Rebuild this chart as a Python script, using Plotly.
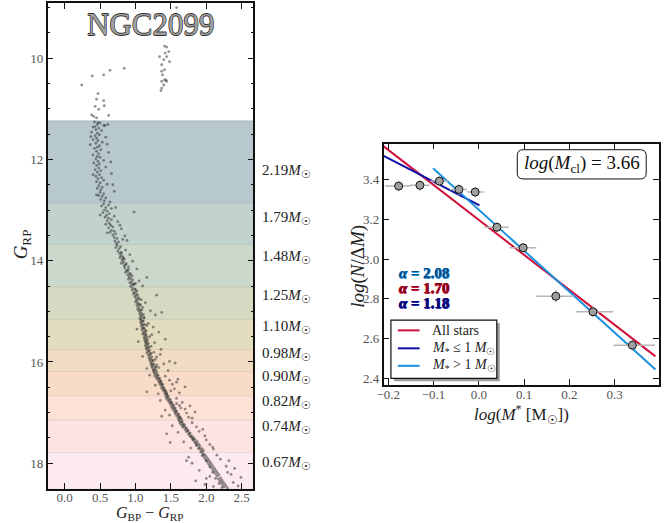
import plotly.graph_objects as go

# ---------------- DATA ----------------
# Colour-magnitude diagram stars (G_BP - G_RP, G_RP)
cmd_stars = [
    # giants / turnoff region
    (1.41, 9.76), (1.44, 9.78), (1.47, 9.87), (1.42, 9.90), (1.44, 9.97), (1.40, 10.03), (1.48, 10.07),
    (1.34, 9.97), (1.37, 10.13), (1.37, 10.26), (1.38, 10.33), (1.41, 10.43), (1.37, 10.46), (1.40, 10.53),
    (1.43, 10.43), (1.37, 10.59), (1.36, 10.64), (1.44, 10.46), (1.41, 10.23), (1.58, 9.00),
    (0.24, 10.53), (0.39, 10.35), (0.55, 10.33), (0.64, 10.24), (0.84, 10.20),
    (0.47, 10.70), (0.45, 10.81), (0.55, 10.84), (0.43, 10.95), (0.56, 10.94), (0.48, 11.01), (0.38, 11.12),
    (0.41, 11.15), (0.45, 11.18), (0.62, 11.13), (0.47, 11.27), (0.43, 11.35), (0.57, 11.33), (0.61, 11.31),
    # band 1
    (0.42, 11.26), (0.50, 11.28), (0.46, 11.31), (0.55, 11.33), (0.40, 11.36), (0.48, 11.38), (0.44, 11.41),
    (0.52, 11.43), (0.38, 11.46), (0.46, 11.48), (0.49, 11.51), (0.43, 11.53), (0.58, 11.56), (0.45, 11.58),
    (0.40, 11.61), (0.47, 11.63), (0.53, 11.66), (0.44, 11.68), (0.36, 11.71), (0.49, 11.73), (0.46, 11.76),
    (0.42, 11.78), (0.51, 11.81), (0.45, 11.84), (0.62, 11.86), (0.48, 11.89), (0.40, 11.91), (0.46, 11.94),
    (0.50, 11.96), (0.44, 11.99), (0.55, 12.02), (0.47, 12.04), (0.41, 12.07), (0.49, 12.09), (0.45, 12.12),
    (0.58, 12.15), (0.48, 12.17), (0.43, 12.20), (0.51, 12.22), (0.46, 12.25), (0.66, 12.28), (0.49, 12.30),
    (0.44, 12.33), (0.52, 12.36), (0.47, 12.38), (0.55, 12.41), (0.45, 12.44), (0.50, 12.46), (0.60, 12.49),
    (0.48, 12.52), (0.53, 12.55), (0.46, 12.57), (0.51, 12.60), (0.70, 12.63), (0.50, 12.65), (0.55, 12.68),
    (0.48, 12.71), (0.53, 12.73), (0.58, 12.76), (0.51, 12.79), (0.56, 12.82), (0.64, 12.84),
    (0.37, 11.55), (0.60, 11.70), (0.65, 12.05), (0.40, 12.30), (0.68, 12.50), (0.45, 12.70),
    # band 2
    (0.55, 12.88), (0.62, 12.90), (0.52, 12.92), (0.58, 12.95), (0.66, 12.97), (0.56, 13.00), (0.60, 13.02),
    (0.98, 13.04), (0.54, 13.05), (0.63, 13.07), (0.59, 13.10), (0.70, 13.12), (0.57, 13.14), (0.62, 13.16),
    (0.66, 13.19), (0.60, 13.21), (0.75, 13.23), (0.63, 13.26), (0.58, 13.28), (0.65, 13.30), (0.68, 13.33),
    (0.62, 13.35), (0.80, 13.37), (0.66, 13.40), (0.70, 13.42), (0.64, 13.44), (0.72, 13.47), (0.68, 13.49),
    (0.85, 13.51), (0.70, 13.54), (0.74, 13.56), (0.82, 13.58), (0.71, 13.61), (0.76, 13.63), (0.73, 13.66),
    (0.72, 12.95), (0.50, 13.10), (0.78, 13.30), (0.60, 13.45), (0.88, 13.60),
    # band 3
    (0.74, 13.70), (0.79, 13.72), (0.72, 13.74), (0.77, 13.76), (0.86, 13.79), (0.75, 13.81), (0.80, 13.83),
    (0.77, 13.85), (0.92, 13.88), (0.79, 13.90), (0.82, 13.92), (0.78, 13.94), (0.84, 13.97), (0.81, 13.99),
    (0.96, 14.01), (0.83, 14.03), (0.80, 14.05), (0.86, 14.08), (0.84, 14.10), (0.90, 14.12), (0.85, 14.14),
    (1.02, 14.16), (0.87, 14.19), (0.89, 14.21), (0.86, 14.23), (0.92, 14.25), (0.89, 14.28), (0.95, 14.30),
    (0.91, 14.32), (1.16, 14.33), (0.93, 14.35), (0.90, 14.37), (1.05, 14.40), (0.94, 14.42), (0.92, 14.44),
    (0.97, 14.46), (0.95, 14.48), (1.10, 14.50), (0.93, 14.51), (1.00, 14.45),
    (0.80, 13.86), (0.83, 13.95), (0.87, 14.06), (0.90, 14.17), (0.93, 14.27), (0.96, 14.38), (0.98, 14.47),
    # band 4
    (0.96, 14.54), (0.99, 14.56), (0.95, 14.58), (1.02, 14.60), (0.98, 14.62), (1.00, 14.64), (0.97, 14.66),
    (1.30, 14.68), (1.01, 14.69), (0.99, 14.71), (1.04, 14.73), (1.01, 14.75), (1.08, 14.77), (1.02, 14.79),
    (1.00, 14.81), (1.14, 14.83), (1.04, 14.84), (1.02, 14.86), (1.06, 14.88), (1.03, 14.90), (1.10, 14.92),
    (1.05, 14.94), (1.03, 14.96), (1.07, 14.98), (1.21, 14.99), (1.05, 15.00), (1.37, 15.02), (1.08, 15.03),
    (1.06, 15.05), (1.28, 15.07), (1.09, 15.08), (1.07, 15.10), (1.12, 15.12), (1.08, 15.14), (1.06, 15.15),
    (1.00, 14.57), (1.03, 14.67), (1.05, 14.76), (1.07, 14.87), (1.09, 14.97), (1.11, 15.06), (1.12, 15.13),
    # band 5
    (1.08, 15.18), (1.10, 15.20), (1.07, 15.22), (1.18, 15.24), (1.09, 15.25), (1.11, 15.27), (1.08, 15.29),
    (1.25, 15.31), (1.10, 15.32), (1.12, 15.34), (1.09, 15.36), (1.14, 15.38), (1.11, 15.40), (1.33, 15.41),
    (1.12, 15.43), (1.10, 15.45), (1.15, 15.47), (1.13, 15.48), (1.20, 15.50), (1.12, 15.52), (1.14, 15.54),
    (1.42, 15.55), (1.13, 15.57), (1.16, 15.59), (1.14, 15.61), (1.27, 15.62), (1.15, 15.64), (1.17, 15.66),
    (1.14, 15.68), (1.22, 15.69), (1.16, 15.71), (1.18, 15.73), (1.15, 15.74), (1.36, 15.75), (1.04, 15.60),
    (1.02, 15.35), (1.23, 15.46), (1.16, 15.28),
    (1.11, 15.19), (1.13, 15.26), (1.12, 15.33), (1.15, 15.39), (1.14, 15.44), (1.16, 15.51), (1.17, 15.56),
    (1.18, 15.63), (1.19, 15.70),
    # band 6
    (1.17, 15.78), (1.19, 15.80), (1.16, 15.82), (1.21, 15.84), (1.18, 15.86), (1.20, 15.88), (1.30, 15.90),
    (1.19, 15.92), (1.22, 15.94), (1.20, 15.96), (1.24, 15.98), (1.21, 16.00), (1.56, 16.02), (1.23, 16.03),
    (1.40, 16.04), (1.22, 16.05), (1.25, 16.07), (1.23, 16.09), (1.33, 16.11), (1.24, 16.12), (1.27, 16.14),
    (1.25, 16.16), (1.46, 16.17), (1.26, 16.18), (1.35, 15.85), (1.28, 15.95), (1.30, 16.06), (1.10, 15.89),
    (1.16, 16.13), (1.48, 15.99), (1.26, 15.81), (1.29, 16.10),
    (1.20, 15.77), (1.22, 15.83), (1.23, 15.90), (1.25, 15.97), (1.26, 16.04), (1.28, 16.10), (1.29, 16.16),
    # band 7
    (1.26, 16.21), (1.28, 16.23), (1.30, 16.25), (1.27, 16.27), (1.31, 16.29), (1.29, 16.31), (1.33, 16.33),
    (1.31, 16.35), (1.35, 16.37), (1.33, 16.39), (1.58, 16.40), (1.36, 16.41), (1.34, 16.43), (1.38, 16.45),
    (1.36, 16.47), (1.70, 16.49), (1.39, 16.50), (1.37, 16.52), (1.41, 16.54), (1.39, 16.56), (1.43, 16.58),
    (1.16, 16.59), (1.41, 16.60), (1.44, 16.62), (1.42, 16.64), (1.45, 16.66), (1.42, 16.28), (1.48, 16.36),
    (1.52, 16.44), (1.55, 16.53), (1.62, 16.61), (1.20, 16.26), (1.28, 16.46), (1.60, 16.34), (1.50, 16.57),
    (1.32, 16.63),
    (1.30, 16.20), (1.32, 16.26), (1.34, 16.32), (1.36, 16.38), (1.38, 16.44), (1.40, 16.51), (1.42, 16.57),
    (1.44, 16.63),
    # band 8
    (1.43, 16.69), (1.46, 16.71), (1.44, 16.73), (1.48, 16.75), (1.46, 16.77), (1.50, 16.79), (1.48, 16.81),
    (1.52, 16.83), (1.50, 16.85), (1.77, 16.87), (1.53, 16.88), (1.51, 16.90), (1.55, 16.92), (1.53, 16.94),
    (1.57, 16.96), (1.55, 16.98), (1.84, 16.99), (1.58, 17.00), (1.56, 17.02), (1.60, 17.04), (1.58, 17.06),
    (1.37, 17.07), (1.62, 17.08), (1.60, 17.10), (1.63, 17.12), (1.61, 17.14), (1.58, 16.72), (1.66, 16.80),
    (1.62, 16.86), (1.70, 16.93), (1.72, 17.01), (1.75, 17.09), (1.35, 16.76), (1.42, 16.95), (1.48, 17.05),
    (1.58, 16.82), (1.80, 17.11), (1.64, 16.91),
    (1.46, 16.68), (1.49, 16.74), (1.51, 16.80), (1.54, 16.86), (1.56, 16.91), (1.58, 16.97), (1.61, 17.03),
    (1.63, 17.09), (1.65, 17.13),
    # band 9
    (1.62, 17.17), (1.65, 17.19), (1.63, 17.21), (1.67, 17.23), (1.65, 17.25), (1.69, 17.27), (1.67, 17.29),
    (1.72, 17.31), (1.95, 17.33), (1.70, 17.34), (1.74, 17.36), (1.72, 17.38), (1.77, 17.40), (1.44, 17.42),
    (1.75, 17.43), (1.79, 17.45), (1.77, 17.47), (1.82, 17.49), (1.80, 17.51), (1.84, 17.53), (1.82, 17.55),
    (1.87, 17.57), (1.49, 17.59), (1.85, 17.60), (1.89, 17.62), (1.87, 17.64), (1.91, 17.66), (2.09, 17.68),
    (1.90, 17.69), (1.94, 17.71), (1.92, 17.73), (1.96, 17.75), (1.94, 17.77), (1.80, 17.20), (1.86, 17.28),
    (1.90, 17.37), (1.98, 17.46), (2.00, 17.54), (2.05, 17.63), (2.10, 17.72), (1.52, 17.26), (1.60, 17.39),
    (1.68, 17.58), (1.78, 17.70),
    (1.66, 17.18), (1.69, 17.24), (1.71, 17.30), (1.74, 17.35), (1.76, 17.41), (1.79, 17.48), (1.81, 17.53),
    (1.84, 17.59), (1.86, 17.65), (1.89, 17.71), (1.92, 17.78),
    # band 10
    (1.95, 17.81), (1.98, 17.83), (1.94, 17.85), (2.00, 17.87), (1.97, 17.89), (2.02, 17.91), (1.99, 17.93),
    (2.04, 17.95), (2.01, 17.97), (2.06, 17.99), (2.03, 18.01), (2.08, 18.03), (2.05, 18.05), (2.10, 18.07),
    (2.07, 18.09), (2.12, 18.11), (2.09, 18.13), (2.14, 18.15), (2.11, 18.17), (2.16, 18.19), (2.13, 18.21),
    (2.18, 18.23), (2.15, 18.25), (2.49, 18.28), (2.20, 18.29), (2.17, 18.31), (2.22, 18.33), (2.19, 18.35),
    (2.24, 18.37), (2.21, 18.39), (2.26, 18.41), (2.23, 18.43), (2.28, 18.45), (2.25, 18.47), (2.30, 18.49),
    (2.15, 17.84), (2.20, 17.92), (1.80, 18.00), (2.28, 18.06), (1.90, 18.14), (2.35, 18.22), (2.00, 18.30),
    (2.38, 18.38), (2.10, 18.46), (1.75, 17.88), (2.30, 18.18), (1.98, 18.42), (2.05, 18.26),
    (1.96, 17.84), (2.00, 17.95), (2.05, 18.07), (2.09, 18.18), (2.13, 18.30), (2.18, 18.40), (2.22, 18.48),
    (2.40, 18.10), (1.85, 18.35), (2.32, 17.95), (1.72, 17.95), (2.45, 18.45),
]
cmd_bp_rp = [c for c, m in cmd_stars]
cmd_grp = [m for c, m in cmd_stars]

# mass bins (magnitude edges) and their masses
band_edges = [11.24, 12.86, 13.68, 14.52, 15.16, 15.76, 16.19, 16.67, 17.15, 17.79, 18.51]
band_masses = ["2.19", "1.79", "1.48", "1.25", "1.10", "0.98", "0.90", "0.82", "0.74", "0.67"]
mass_label_grp = [12.22, 13.15, 13.93, 14.70, 15.31, 15.84, 16.30, 16.79, 17.28, 17.99]
band_colors = ["#b7c8cf", "#c1d2cf", "#ccd8cb", "#d7dac3", "#e4dcbf",
               "#efdcc3", "#f8dcc8", "#fde1d7", "#fde4e2", "#fdeaf1"]

# mass function points
imf_logm = [-0.177, -0.130, -0.087, -0.044, -0.008, 0.040, 0.098, 0.170, 0.252, 0.339]
imf_logn = [3.367, 3.371, 3.392, 3.350, 3.337, 3.160, 3.057, 2.813, 2.735, 2.567]
imf_xerr_lo = [0.030, 0.022, 0.020, 0.020, 0.018, 0.027, 0.030, 0.043, 0.038, 0.042]
imf_xerr_hi = [0.026, 0.022, 0.020, 0.018, 0.020, 0.026, 0.029, 0.040, 0.045, 0.050]
imf_yerr = [0.027, 0.027, 0.026, 0.026, 0.027, 0.025, 0.025, 0.030, 0.025, 0.025]

# fits: slope, intercept, x-range
fit_labels = ["All stars", "M* <= 1", "M* > 1"]
fit_slopes = [-1.760, -1.176, -2.061]
fit_intercepts = [3.197, 3.272, 3.248]
fit_xmin = [-0.21, -0.21, -0.101]
fit_xmax = [0.390, 0.0015, 0.390]
fit_colors = ["#d0103a", "#1010a8", "#1a8fe0"]
alpha_values = ["2.08", "1.70", "1.18"]
log_mcl = "3.66"

# ---------------- FIGURE ----------------
W, H = 666, 523
SERIF = "Liberation Serif, DejaVu Serif, serif"


def px(x):
    return x / W


def py(y):
    return (H - y) / H


def darker(hexc, f=0.93):
    r, g, b = int(hexc[1:3], 16), int(hexc[3:5], 16), int(hexc[5:7], 16)
    return "rgb(%d,%d,%d)" % (r * f, g * f, b * f)


def note(x, y, text, size, color="#222", angle=0, xanchor="center", family=SERIF, **kw):
    font = dict(family=family, size=size, color=color)
    font.update(kw)
    return dict(xref="paper", yref="paper", x=x, y=y, text=text, showarrow=False,
                xanchor=xanchor, yanchor="middle", textangle=angle, font=font)


fig = go.Figure()

# left: CMD
fig.add_trace(go.Scatter(
    x=cmd_bp_rp, y=cmd_grp, mode="markers", xaxis="x", yaxis="y",
    marker=dict(size=2.8, color="rgba(40,40,40,0.5)", line=dict(width=0)),
    showlegend=False, hoverinfo="skip"))

shapes = []
for i, col in enumerate(band_colors):
    shapes.append(dict(type="rect", xref="x domain", yref="y", x0=0, x1=1,
                       y0=band_edges[i], y1=band_edges[i + 1], fillcolor=col,
                       line=dict(color=darker(col), width=1), layer="below"))

annotations = []
for m, yv in zip(band_masses, mass_label_grp):
    annotations.append(dict(xref="paper", yref="y", x=px(256), y=yv, xanchor="left",
                            yanchor="middle", showarrow=False,
                            text=m + "<i>M</i><sub>☉</sub>",
                            font=dict(family=SERIF, size=15, color="#222")))

annotations.append(note(px(145), py(25), "NGC2099", 31, color="#a0a0a0",
                        shadow="0.6px 0 0 #333, -0.6px 0 0 #333, 0 0.6px 0 #333, 0 -0.6px 0 #333"))
annotations.append(note(px(15), py(245), "<i>G</i><sub>RP</sub>", 19, angle=-90))
annotations.append(note(px(145), py(514.5), "<i>G</i><sub>BP</sub> − <i>G</i><sub>RP</sub>", 16))

# right: mass function
for i in range(3):
    xs = [fit_xmin[i], fit_xmax[i]]
    ys = [fit_intercepts[i] + fit_slopes[i] * x for x in xs]
    fig.add_trace(go.Scatter(x=xs, y=ys, mode="lines", xaxis="x2", yaxis="y2",
                             line=dict(color=fit_colors[i], width=2),
                             showlegend=False, hoverinfo="skip"))

fig.add_trace(go.Scatter(
    x=imf_logm, y=imf_logn, mode="markers", xaxis="x2", yaxis="y2",
    marker=dict(size=8, color="#a0a0a0", line=dict(color="#111", width=1)),
    error_x=dict(type="data", symmetric=False, array=imf_xerr_hi, arrayminus=imf_xerr_lo,
                 color="#b5b5b5", thickness=1.5, width=0),
    error_y=dict(type="data", array=imf_yerr, color="#b5b5b5", thickness=1.5, width=0),
    showlegend=False, hoverinfo="skip"))

# log(Mcl) rounded box
x0, x1, y0, y1 = px(515.7), px(646), py(179.3), py(150)
rx, ry = 6 / W, 6 / H
path = (f"M {x0+rx},{y0} L {x1-rx},{y0} Q {x1},{y0} {x1},{y0+ry} L {x1},{y1-ry} "
        f"Q {x1},{y1} {x1-rx},{y1} L {x0+rx},{y1} Q {x0},{y1} {x0},{y1-ry} "
        f"L {x0},{y0+ry} Q {x0},{y0} {x0+rx},{y0} Z")
shapes.append(dict(type="path", xref="paper", yref="paper", path=path,
                   line=dict(color="#111", width=1), fillcolor="white", layer="above"))
annotations.append(note((x0 + x1) / 2, (y0 + y1) / 2,
                        "<i>log</i>(<i>M</i><sub>cl</sub>) = " + log_mcl, 19, color="#111"))

# alpha labels
alpha_fill = ["#0d4a7a", "#7a0a1a", "#0a0a60"]
alpha_edge = ["#2a9df4", "#d0103a", "#2020c0"]
alpha_y = [274, 289, 304]
for a, fc, ec, yy in zip(alpha_values, alpha_fill, alpha_edge, alpha_y):
    annotations.append(note(px(394), py(yy), "<b><i>α</i> = " + a + "</b>", 15, color=fc,
                            xanchor="left",
                            shadow=f"0.5px 0 0 {ec}, -0.5px 0 0 {ec}, 0 0.5px 0 {ec}, 0 -0.5px 0 {ec}"))

# legend (manual)
lx0, lx1, ly0, ly1 = px(388), px(495), py(379), py(320.7)
shapes.append(dict(type="rect", xref="paper", yref="paper", x0=lx0 + 3 / W, x1=lx1 + 3 / W,
                   y0=ly0 - 3 / H, y1=ly1 - 3 / H, fillcolor="#9a9a9a",
                   line=dict(width=0), layer="above"))
shapes.append(dict(type="rect", xref="paper", yref="paper", x0=lx0, x1=lx1, y0=ly0, y1=ly1,
                   fillcolor="white", line=dict(color="#111", width=1.2), layer="above"))
leg_text = ["All stars", "<i>M</i><sub>*</sub> ≤ 1 <i>M</i><sub>☉</sub>",
            "<i>M</i><sub>*</sub> > 1 <i>M</i><sub>☉</sub>"]
leg_y = [331, 349, 366.5]
for t, c, yy in zip(leg_text, fit_colors, leg_y):
    shapes.append(dict(type="line", xref="paper", yref="paper", x0=px(395), x1=px(417),
                       y0=py(yy), y1=py(yy), line=dict(color=c, width=2), layer="above"))
    annotations.append(note(px(427), py(yy), t, 14, xanchor="left"))

annotations.append(note(px(355), py(267), "<i>log</i>(<i>N</i>/Δ<i>M</i>)", 19, angle=-90))
annotations.append(note(px(520), py(415), "<i>log</i>(<i>M</i><sup>*</sup> [M<sub>☉</sub>])", 17))

axis_common = dict(showgrid=False, zeroline=False, showline=True, linecolor="#111", linewidth=1.5,
                   mirror="ticks", ticks="inside", ticklen=6, tickwidth=1, tickcolor="#111",
                   tickfont=dict(family=SERIF, size=13, color="#555"))

fig.update_layout(
    width=W, height=H, margin=dict(l=0, r=0, t=0, b=0),
    font=dict(family=SERIF),
    paper_bgcolor="white", plot_bgcolor="white", showlegend=False,
    xaxis=dict(domain=[px(41), px(249)], range=[-0.242, 2.665], dtick=0.5, tick0=0,
               tickformat=".1f", anchor="y", ticklabelstandoff=-4, **axis_common),
    yaxis=dict(domain=[py(490), py(3)], range=[18.51, 8.91], dtick=2, tick0=10,
               anchor="x", minor=dict(dtick=0.5, ticks="inside", ticklen=3, tickcolor="#111"),
               **axis_common),
    xaxis2=dict(domain=[px(380.7), px(659)], range=[-0.21, 0.398], dtick=0.1, tick0=0,
                tickformat=".1f", anchor="y2", ticklabelstandoff=-3, **axis_common),
    yaxis2=dict(domain=[py(385.7), py(144)], range=[2.367, 3.58], dtick=0.2, tick0=2.4,
                tickformat=".1f", anchor="x2", **axis_common),
    shapes=shapes, annotations=annotations,
)

fig.write_html("out.html")
